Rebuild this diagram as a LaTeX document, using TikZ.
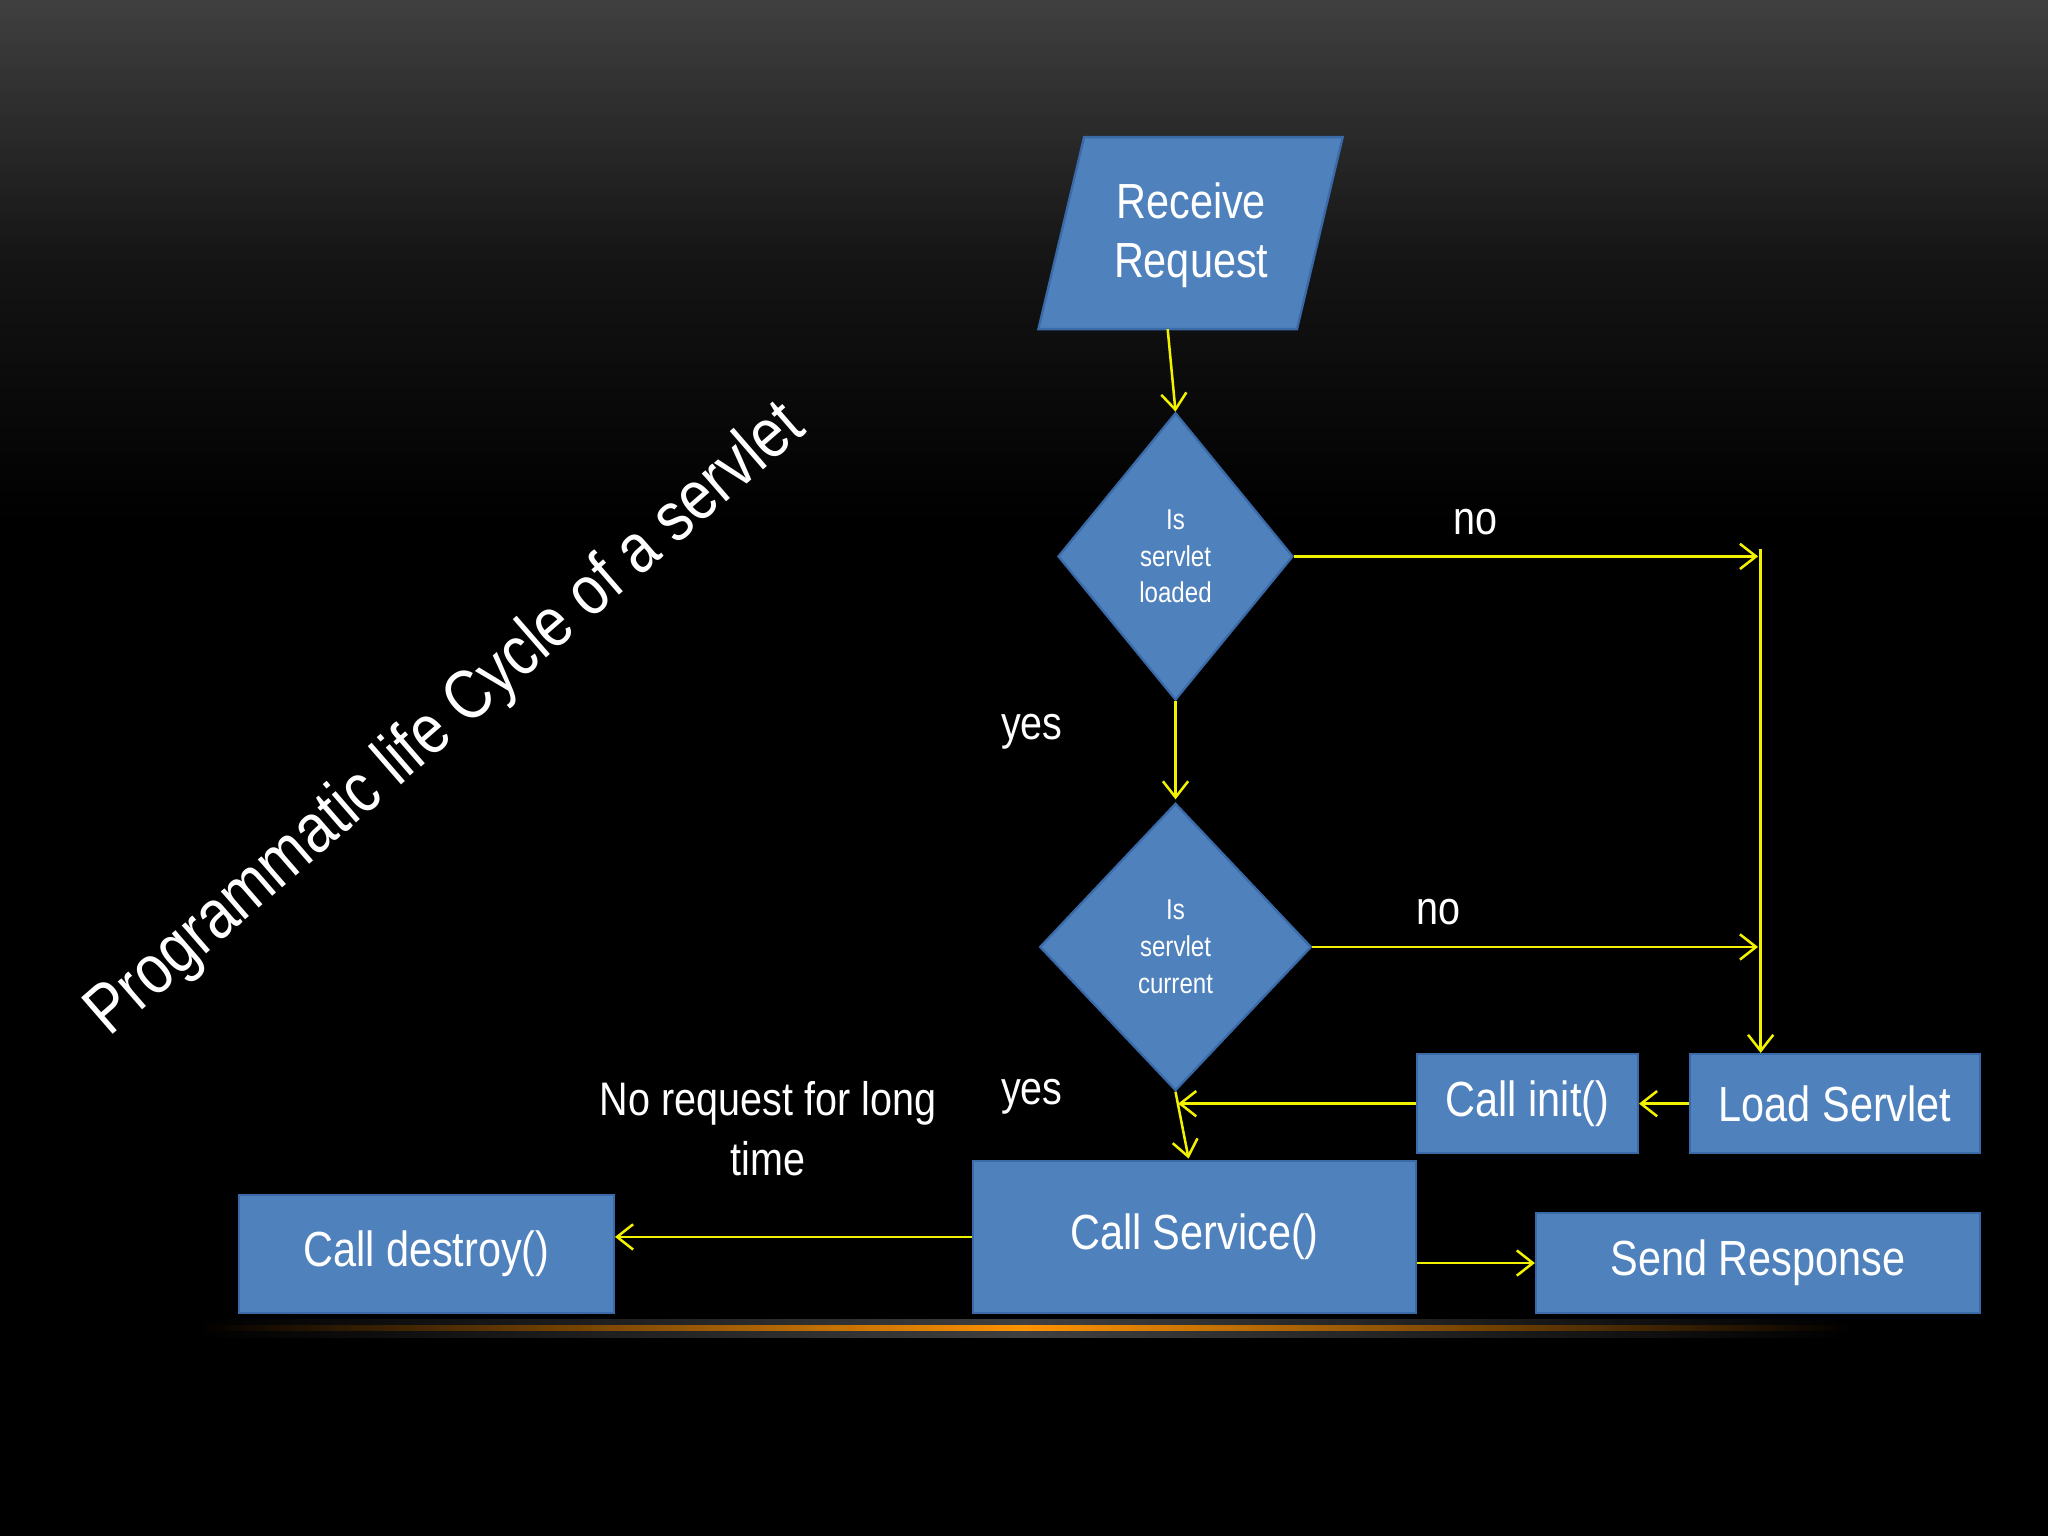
\documentclass[tikz,border=0pt]{standalone}
\usepackage{fontspec}
\setmainfont{Liberation Sans}[FakeStretch=0.84]
\usetikzlibrary{shapes.geometric,arrows.meta}
\definecolor{boxblue}{HTML}{4F81BD}
\definecolor{boxedge}{HTML}{3A6AA8}
\definecolor{yel}{HTML}{F2F200}
\begin{document}
\begin{tikzpicture}[x=0.02cm,y=-0.02cm,
  box/.style={draw=boxedge,line width=1pt,fill=boxblue,text=white,font=\fontsize{21.5}{24}\selectfont,inner sep=0pt},
  dia/.style={draw=boxedge,line width=1pt,fill=boxblue,text=white,font=\fontsize{12.5}{16}\selectfont,align=center},
  con/.style={draw=yel,line width=1.1pt,-{Straight Barb[length=7pt,width=11pt]}},
  lab/.style={text=white,font=\fontsize{20.5}{26}\selectfont,align=center}]
\useasboundingbox (0,0) rectangle (1568,1176);
\shade[top color=black!75,bottom color=black,middle color=black!92] (0,0) rectangle (1568,400);
\fill[black] (0,400) rectangle (1568,1176);
\shade[left color=black,right color=black,middle color=black!75] (150,1010) rectangle (1420,1024);
\shade[left color=black,right color=black,middle color=orange!85!yellow] (150,1015) rectangle (1420,1019);
% title
\node[text=white,rotate=41,font=\fontsize{30.5}{34}\selectfont] (title) at (342,552) {Programmatic life Cycle of a servlet};
% nodes
\path[draw=boxedge,line width=1pt,fill=boxblue] (830,105) -- (1028,105) -- (993,252) -- (795,252) -- cycle;
\node[text=white,font=\fontsize{21.5}{26}\selectfont,align=center] (rr) at (912,180) {Receive\\Request};
\coordinate (rrb) at (894,252);
\node[dia,diamond,minimum width=3.6cm,minimum height=4.4cm,inner sep=0pt] (d1) at (900,426) {Is\\servlet\\loaded};
\node[dia,diamond,minimum width=4.16cm,minimum height=4.4cm,inner sep=0pt] (d2) at (900,725) {Is\\servlet\\current};
\node[box,minimum width=3.38cm,minimum height=1.52cm] (init) at (1169.5,845) {Call init()};
\node[box,minimum width=4.44cm,minimum height=1.52cm] (load) at (1405,845) {Load Servlet};
\node[box,minimum width=6.78cm,minimum height=2.32cm] (svc) at (914.5,947) {Call Service()};
\node[box,minimum width=5.74cm,minimum height=1.8cm] (des) at (326.5,960) {Call destroy()};
\node[box,minimum width=6.8cm,minimum height=1.54cm] (send) at (1346,967) {Send Response};
\coordinate (c1) at (1346,426);
\coordinate (c1t) at (1348,420);
\coordinate (c2) at (1346,725);
\coordinate (j) at (902,845);
% connectors
\draw[con] (rrb) -- (d1.north);
\draw[con] (d1.south) -- (900,612);
\draw[con] (d1.east) -- (c1);
\draw[con] (c1t) -- (load.north -| c1t);
\draw[con] (d2.east) -- (c2);
\draw[con] (load.west) -- (init.east);
\draw[con] (init.west) -- (j);
\draw[con] (d2.south) -- (910,887);
\draw[con] (svc.west |- 0,947) -- (des.east |- 0,947);
\draw[con] (svc.east |- 0,967) -- (send.west);
% labels
\node[lab] (no1) at (1130,400) {no};
\node[lab] (yes1) at (790,560) {yes};
\node[lab] (no2) at (1101,698) {no};
\node[lab] (yes2) at (790,840) {yes};
\node[lab] (nr) at (588,864) {No request for long\\time};
\end{tikzpicture}
\end{document}
